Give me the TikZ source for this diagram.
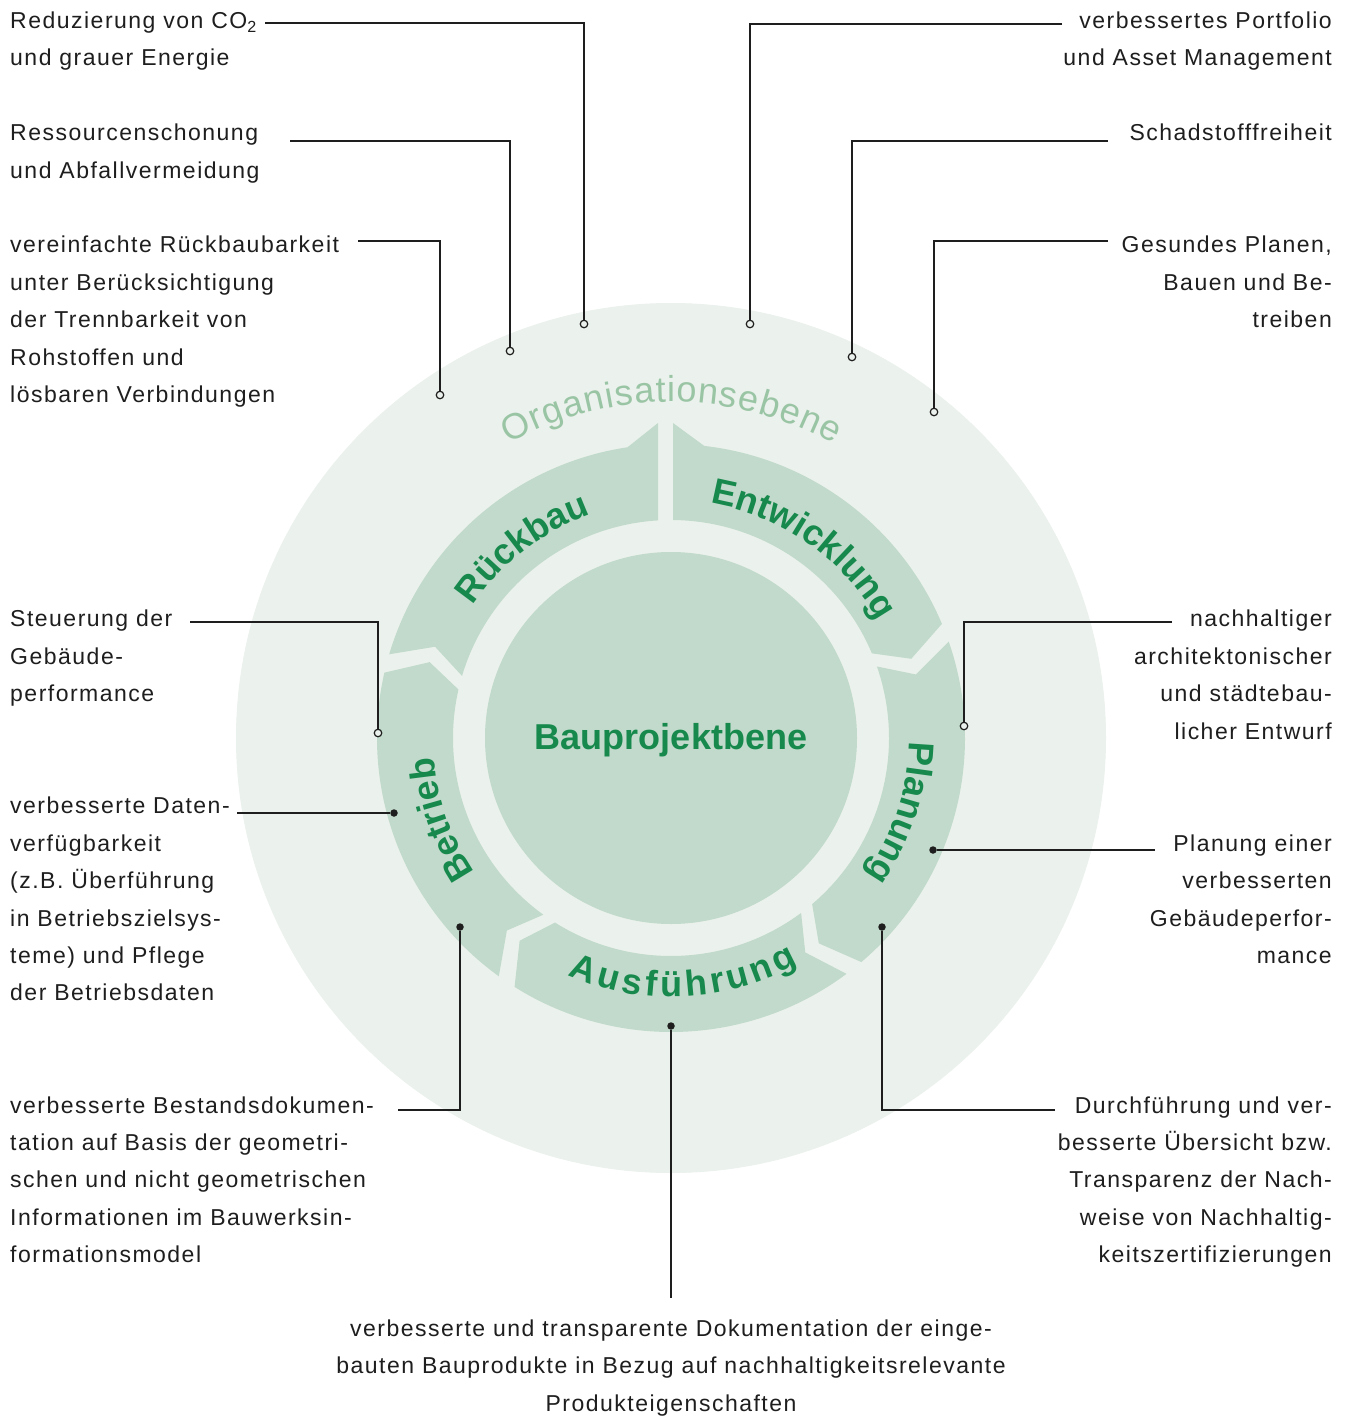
\documentclass[tikz,border=0pt]{standalone}
\usepackage{fontspec}
\setmainfont{Liberation Sans}[LetterSpace=6.5]
\newfontfamily\ringfont{Liberation Sans}
\usetikzlibrary{decorations.text}

\definecolor{orgbg}{HTML}{EBF1EC}
\definecolor{ringc}{HTML}{C1DACB}
\definecolor{dgreen}{HTML}{17894D}
\definecolor{lgreen}{HTML}{9AC5A5}
\definecolor{ink}{HTML}{1E1E1E}

\newcommand\notesize{\fontsize{23}{37.4}\selectfont}
\newcommand\ringsize{\fontsize{36}{36}\selectfont}

% base anchor = baseline of the last line
\tikzset{
  note/.style={font=\notesize, text=ink, inner sep=0pt},
  lnote/.style={note, align=left, anchor=base west},
  rnote/.style={note, align=right, anchor=base east},
  cnote/.style={note, align=center, anchor=base},
  conn/.style={draw=ink, line width=1.3pt},
  hdot/.style={circle, draw=ink, fill=orgbg, line width=1.2pt, inner sep=0pt, minimum size=7.5pt},
  fdot/.style={circle, fill=ink, inner sep=0pt, minimum size=7.5pt},
  seg/.style={fill=ringc},
}

\begin{document}
\begin{tikzpicture}[x=1pt, y=1pt]
\fill[white] (0,0) rectangle (1352,-1416);
\useasboundingbox (0,0) rectangle (1352,-1416);
\coordinate (c) at (671,-738);

% Organisationsebene und Bauprojektebene
\fill[orgbg] (c) circle[radius=435pt];
\fill[ringc] (c) circle[radius=186pt];

\begin{scope}[shift={(c)}]
  % Entwicklung
  \fill[seg] (2,315) -- (83.5:294) arc[start angle=83.5, end angle=22.85, radius=294pt]
    -- (18.25:253) -- (22.85:218) arc[start angle=22.85, end angle=89.47, radius=218pt] -- cycle;
  % Planung, Ausfuehrung, Betrieb
  \foreach \s/\e in {21/-51.5, -51.5/-124, -124/-194.7} {
    \pgfmathsetmacro\sa{\s-1.85}
    \pgfmathsetmacro\ea{\e+1.85}
    \pgfmathsetmacro\sn{\sa-4.6}
    \pgfmathsetmacro\et{\ea-4.6}
    \fill[seg] (\sa:294) arc[start angle=\sa, end angle=\ea, radius=294pt]
      -- (\et:253) -- (\ea:218) arc[start angle=\ea, end angle=\sa, radius=218pt]
      -- (\sn:253) -- cycle;
  }
  % Rueckbau
  \fill[seg] (163.45:294) arc[start angle=163.45, end angle=98.5, radius=294pt]
    -- (-13,315) -- (93.42:218) arc[start angle=93.42, end angle=163.45, radius=218pt]
    -- (158.85:253) -- cycle;

  % Beschriftung der Phasen
  \path[decorate, decoration={text along path, text align=center, text color=lgreen,
      text={|\ringfont\ringsize\kern1pt|Organisationsebene}}]
    (150:336) arc[start angle=150, end angle=30, radius=336pt];
  \path[decorate, decoration={text along path, text align=center, text color=dgreen,
      text={|\ringfont\bfseries\ringsize|Rückbau}}]
    (178:238) arc[start angle=178, end angle=78, radius=238pt];
  \path[decorate, decoration={text along path, text align=center, text color=dgreen,
      text={|\ringfont\bfseries\ringsize|Entwicklung}}]
    (105:238) arc[start angle=105, end angle=5, radius=238pt];
  \path[decorate, decoration={text along path, text align=center, text color=dgreen,
      text={|\ringfont\bfseries\ringsize|Planung}}]
    (32:238) arc[start angle=32, end angle=-68, radius=238pt];
  \path[decorate, decoration={text along path, text align=center, text color=dgreen,
      text={|\ringfont\bfseries\ringsize\kern4pt|Ausführung}}]
    (-137.5:259) arc[start angle=-137.5, end angle=-37.5, radius=259pt];
  \path[decorate, decoration={text along path, text align=center, text color=dgreen,
      text={|\ringfont\bfseries\ringsize|Betrieb}}]
    (249.5:238) arc[start angle=249.5, end angle=149.5, radius=238pt];

  \node[font=\ringfont\bfseries\ringsize, text=dgreen, anchor=base] (bau) at (0,-11) {Bauprojektbene};
\end{scope}

% Texte links
\node[lnote] (co2) at (10,-65.9) {Reduzierung von CO\textsubscript{2}\\und grauer Energie};
\node[lnote] (ressourcen) at (10,-178.1) {Ressourcenschonung\\und Abfallvermeidung};
\node[lnote] (rueckbau) at (10,-402.5) {vereinfachte Rückbaubarkeit\\unter Berücksichtigung\\der Trennbarkeit von\\Rohstoffen und\\lösbaren Verbindungen};
\node[lnote] (steuerung) at (10,-701.7) {Steuerung der\\Gebäude-\\performance};
\node[lnote] (daten) at (10,-1000.9) {verbesserte Daten-\\verfügbarkeit\\(z.B. Überführung\\in Betriebszielsys-\\teme) und Pflege\\der Betriebsdaten};
\node[lnote] (bestand) at (10,-1262.7) {verbesserte Bestandsdokumen-\\tation auf Basis der geometri-\\schen und nicht geometrischen\\Informationen im Bauwerksin-\\formationsmodel};

% Texte rechts
\node[rnote] (portfolio) at (1332,-65.9) {verbessertes Portfolio\\und Asset Management};
\node[rnote] (schadstoff) at (1332,-140.7) {Schadstofffreiheit};
\node[rnote] (gesund) at (1332,-327.7) {Gesundes Planen,\\Bauen und Be-\\treiben};
\node[rnote] (entwurf) at (1332,-739.1) {nachhaltiger\\architektonischer\\und städtebau-\\licher Entwurf};
\node[rnote] (gebperf) at (1332,-963.5) {Planung einer\\verbesserten\\Gebäudeperfor-\\mance};
\node[rnote] (nachweis) at (1332,-1262.7) {Durchführung und ver-\\besserte Übersicht bzw.\\Transparenz der Nach-\\weise von Nachhaltig-\\keitszertifizierungen};

% Text unten
\node[cnote] (doku) at (671,-1411) {verbesserte und transparente Dokumentation der einge-\\bauten Bauprodukte in Bezug auf nachhaltigkeitsrelevante\\Produkteigenschaften};

% Punkte
\node[hdot] (dco2) at (584,-324) {};
\node[hdot] (dressourcen) at (510,-351) {};
\node[hdot] (drueckbau) at (440,-395) {};
\node[hdot] (dsteuerung) at (378,-733) {};
\node[fdot] (ddaten) at (394,-813) {};
\node[fdot] (dbestand) at (460,-927) {};
\node[hdot] (dportfolio) at (750,-324) {};
\node[hdot] (dschadstoff) at (852,-357) {};
\node[hdot] (dgesund) at (934,-412) {};
\node[hdot] (dentwurf) at (964,-726) {};
\node[fdot] (dgebperf) at (933,-850) {};
\node[fdot] (dnachweis) at (882,-927) {};
\node[fdot] (ddoku) at (671,-1026) {};

% Leitlinien
\coordinate (lco2) at (265,-23);
\coordinate (lressourcen) at (290,-141);
\coordinate (lrueckbau) at (358,-241);
\coordinate (lsteuerung) at (190,-622);
\coordinate (ldaten) at (237,-813);
\coordinate (lbestand) at (398,-1110);
\coordinate (lportfolio) at (1062,-24);
\coordinate (lschadstoff) at (1108,-141);
\coordinate (lgesund) at (1108,-241);
\coordinate (lentwurf) at (1172,-622);
\coordinate (lgebperf) at (1155,-850);
\coordinate (lnachweis) at (1055,-1110);
\coordinate (ldoku) at (671,-1298);

\draw[conn] (lco2) -| (dco2);
\draw[conn] (lressourcen) -| (dressourcen);
\draw[conn] (lrueckbau) -| (drueckbau);
\draw[conn] (lsteuerung) -| (dsteuerung);
\draw[conn] (ldaten) -- (ddaten);
\draw[conn] (lbestand) -| (dbestand);
\draw[conn] (lportfolio) -| (dportfolio);
\draw[conn] (lschadstoff) -| (dschadstoff);
\draw[conn] (lgesund) -| (dgesund);
\draw[conn] (lentwurf) -| (dentwurf);
\draw[conn] (lgebperf) -- (dgebperf);
\draw[conn] (lnachweis) -| (dnachweis);
\draw[conn] (ddoku) -- (ldoku);
\end{tikzpicture}
\end{document}
